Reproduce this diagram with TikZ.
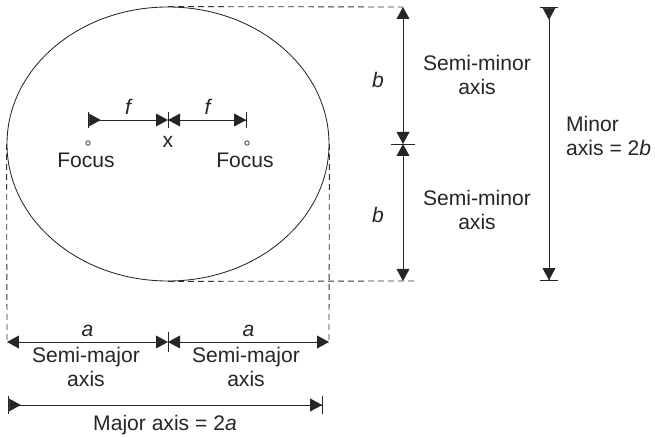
\documentclass[tikz,border=0pt]{standalone}
\usepackage{fontspec}
\setmainfont{Liberation Sans}
\usetikzlibrary{shapes.geometric, arrows.meta, positioning, calc}

\begin{document}
\begin{tikzpicture}[
  every node/.style={font=\fontsize{15}{17}\selectfont, text=black!85, align=center},
  >={Triangle[length=0.3cm, width=0.32cm]},
  dim/.style={draw=black!85, line width=0.6pt, <->},
  bdim/.style={dim, {Bar[width=0.45cm]>}-{>Bar[width=0.45cm]}},
  lbar/.style={dim, {Bar[width=0.4cm]>}->},
  rbar/.style={dim, <-{>Bar[width=0.4cm]}},
  tick/.style={draw=black!85, line width=0.6pt},
  guide/.style={draw=black!80, line width=0.6pt, dash pattern=on 0.15cm off 0.1cm},
  lbl/.style={font=\fontsize{15}{17}\selectfont\itshape},
  dot/.style={circle, draw=black!85, line width=0.5pt, inner sep=0pt, minimum size=0.11cm}
]
\useasboundingbox (-4.2,3.6) rectangle (12.175,-7.35);

%% ellipse
\node[draw=black!85, ellipse, line width=0.6pt, inner sep=0pt,
      minimum width=8.05cm, minimum height=6.85cm] (ell) at (0,0) {};

%% centre and foci
\node (cx) at (0,0.05) {x};
\node[dot] (f1) at (-2.0,0.025) {};
\node[dot] (f2) at (1.975,0.025) {};
\node (f1l) at (-2.05,-0.4) {Focus};
\node (f2l) at (1.925,-0.4) {Focus};

\coordinate (fa) at (-2.0,0.6);
\coordinate (fm) at (0,0.6);
\coordinate (fb) at (1.975,0.6);
\draw[lbar] (fa) -- (fm) node[midway, above, lbl] {f};
\draw[rbar] (fm) -- (fb) node[midway, above, lbl] {f};
\draw[tick] ($(fm)+(0,0.19)$) -- ($(fm)+(0,-0.19)$);

%% semi-major axes
\coordinate (ma) at (-4.025,-4.95);
\coordinate (mm) at (0,-4.95);
\coordinate (mb) at (4.025,-4.95);
\draw[guide] (ell.west) -- (ma);
\draw[guide] (ell.east) -- (mb);
\draw[dim] (ma) -- (mm) node[midway, above, lbl] {a};
\draw[dim] (mm) -- (mb) node[midway, above, lbl] {a};
\draw[tick] ($(mm)+(0,0.25)$) -- ($(mm)+(0,-0.25)$);
\node (sma1) at (-2.05,-5.58) {Semi-major\\axis};
\node (sma2) at (1.95,-5.58) {Semi-major\\axis};

%% major axis
\coordinate (Ma) at (-4.0,-6.525);
\coordinate (Mb) at (3.875,-6.525);
\draw[bdim] (Ma) -- (Mb);
\node (majl) at (-0.075,-7.025) {Major axis = 2\textit{a}};

%% semi-minor axes
\coordinate (bt) at (5.875,3.425);
\coordinate (bm) at (5.875,0);
\coordinate (bb) at (5.875,-3.425);
\coordinate (gb) at (6.175,-3.425);
\draw[guide] (ell.north) -- (bt);
\draw[guide] (ell.south) -- (gb);
\draw[dim] (bt) -- (bm);
\draw[dim] (bm) -- (bb);
\draw[tick] ($(bm)+(-0.3,0)$) -- ($(bm)+(0.3,0)$);
\node[lbl] (b1) at (5.25,1.6) {b};
\node[lbl] (b2) at (5.25,-1.775) {b};
\node (smi1) at (7.725,1.725) {Semi-minor\\axis};
\node (smi2) at (7.725,-1.65) {Semi-minor\\axis};

%% minor axis
\coordinate (nt) at (9.525,3.425);
\coordinate (nb) at (9.525,-3.425);
\draw[bdim] (nt) -- (nb);
\node[anchor=west, align=left] (minl) at (9.83,0.2) {Minor\\axis = 2\textit{b}};

\end{tikzpicture}
\end{document}
